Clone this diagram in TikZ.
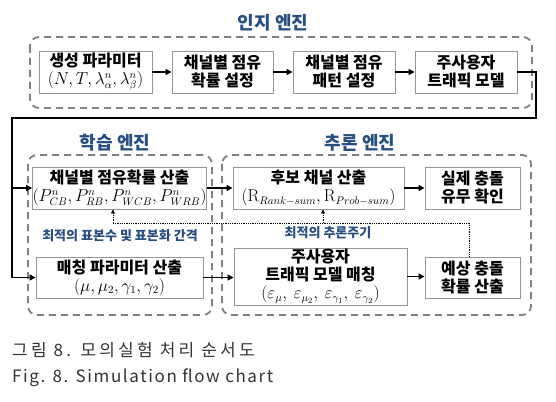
\documentclass[tikz,border=0pt]{standalone}
\usepackage[no-math]{fontspec}
\usepackage{amsmath}
\setmainfont{Noto Sans CJK KR}
\usetikzlibrary{arrows.meta}
\tikzstyle{pixelGrid} = [x = 1pt, y = -1pt]
\definecolor{titleColor}{RGB}{38,78,128}
\definecolor{frameColor}{RGB}{128,128,128}
\definecolor{boxColor}{RGB}{150,150,150}
\definecolor{captionColor}{RGB}{51,51,51}
\tikzstyle{engineFrameStyle} = [draw=frameColor, line width=1.8pt, dash pattern=on 7pt off 5pt, rounded corners=9pt]
\tikzstyle{engineTitle} = [text=titleColor, font=\fontsize{18}{20}\selectfont\bfseries]
\tikzstyle{stepBox} = [draw=boxColor, fill=white, line width=0.9pt, align=center, inner sep=0pt, font=\fontsize{16}{18}\selectfont\bfseries]
\tikzstyle{flowArrow} = [line width=1.8pt, -{Triangle[length=6pt,width=6pt]}]
\tikzstyle{hintLine} = [densely dotted, line width=0.8pt]
\tikzstyle{hintArrow} = [hintLine, -{Triangle[length=4pt,width=4pt]}]
\tikzstyle{hintText} = [text=titleColor, font=\fontsize{13}{15}\selectfont\bfseries]
\tikzstyle{captionText} = [text=captionColor, anchor=west, inner sep=0pt, font=\fontsize{17}{20}\selectfont]
\newcommand{\engineFrame}[4]{\draw [engineFrameStyle] (#1, #2) rectangle (#3, #4);}
\newcommand{\stepNode}[6]{\node [stepBox, minimum width = #4pt, minimum height = #5pt] (#1) at (#2, #3) {#6};}

\begin{document}
\begin{tikzpicture}[pixelGrid]
  \useasboundingbox (0,0) rectangle (556,401);
  % engines
  \engineFrame{30}{37}{532}{108}
  \engineFrame{28}{155}{212}{315}
  \engineFrame{222}{155}{531}{315}
  \node [engineTitle] (senseTitle) at (273,23) {인지 엔진};
  \node [engineTitle] (learnTitle) at (115,143) {학습 엔진};
  \node [engineTitle] (inferTitle) at (360,143) {추론 엔진};
  % sensing engine
  \stepNode{gen}{95.5}{72}{113}{42}{생성 파라미터\\$(N,T,\lambda^n_\alpha,\lambda^n_\beta)$}
  \stepNode{occProb}{222.5}{72}{101}{42}{채널별 점유\\확률 설정}
  \stepNode{occPat}{344}{72}{102}{42}{채널별 점유\\패턴 설정}
  \stepNode{puModel}{466}{72}{102}{42}{주사용자\\트래픽 모델}
  % learning engine
  \stepNode{occCalc}{119.5}{188}{167}{42}{채널별 점유확률 산출\\$(P^n_{CB},P^n_{RB},P^n_{WCB},P^n_{WRB})$}
  \stepNode{matchPar}{119.5}{277.5}{167}{41}{매칭 파라미터 산출\\$(\mu,\mu_2,\gamma_1,\gamma_2)$}
  % inference engine
  \stepNode{candCh}{318.5}{188}{171}{42}{후보 채널 산출\\$(\mathrm{R}_{Rank-sum},\mathrm{R}_{Prob-sum})$}
  \stepNode{realCol}{472.5}{188}{95}{42}{실제 충돌\\유무 확인}
  \stepNode{puMatch}{320.5}{276.5}{173}{57}{주사용자\\트래픽 모델 매칭\\$(\varepsilon_\mu,\ \varepsilon_{\mu_2},\ \varepsilon_{\gamma_1},\ \varepsilon_{\gamma_2})$}
  \stepNode{expCol}{472.5}{277.5}{95}{41}{예상 충돌\\확률 산출}
  % flow
  \foreach \from/\to in {gen/occProb, occProb/occPat, occPat/puModel, occCalc/candCh, matchPar/puMatch, candCh/realCol, puMatch/expCol}
    \draw [flowArrow] (\from.east) -- (\from.east -| \to.west);
  \coordinate (turnRight) at (536,118);
  \coordinate (turnLeft) at (12,118);
  \draw [flowArrow] (puModel.east) -| (turnRight) -- (turnLeft) |- (matchPar.west);
  \draw [flowArrow] (turnLeft |- occCalc.west) -- (occCalc.west);
  % feedback
  \coordinate (tapCol) at (469,223);
  \coordinate (tapLearn) at (113,223);
  \coordinate (tapInfer) at (323,223);
  \draw [hintLine] (tapCol |- expCol.north) -- (tapCol) -- (tapLearn);
  \draw [hintArrow] (tapLearn) -- (tapLearn |- occCalc.south);
  \draw [hintArrow] (tapInfer) -- (tapInfer |- candCh.south);
  \node [hintText] (learnHint) at (120,236) {최적의 표본수 및 표본화 간격};
  \node [hintText] (inferHint) at (328,233) {최적의 추론주기};
  % caption
  \node [captionText] (capKo) at (12,350) {\addfontfeatures{LetterSpace=19}그림 8. 모의실험 처리 순서도};
  \node [captionText] (capEn) at (12,378) {\addfontfeatures{LetterSpace=9.5}Fig. 8. Simulation flow chart};
\end{tikzpicture}
\end{document}
